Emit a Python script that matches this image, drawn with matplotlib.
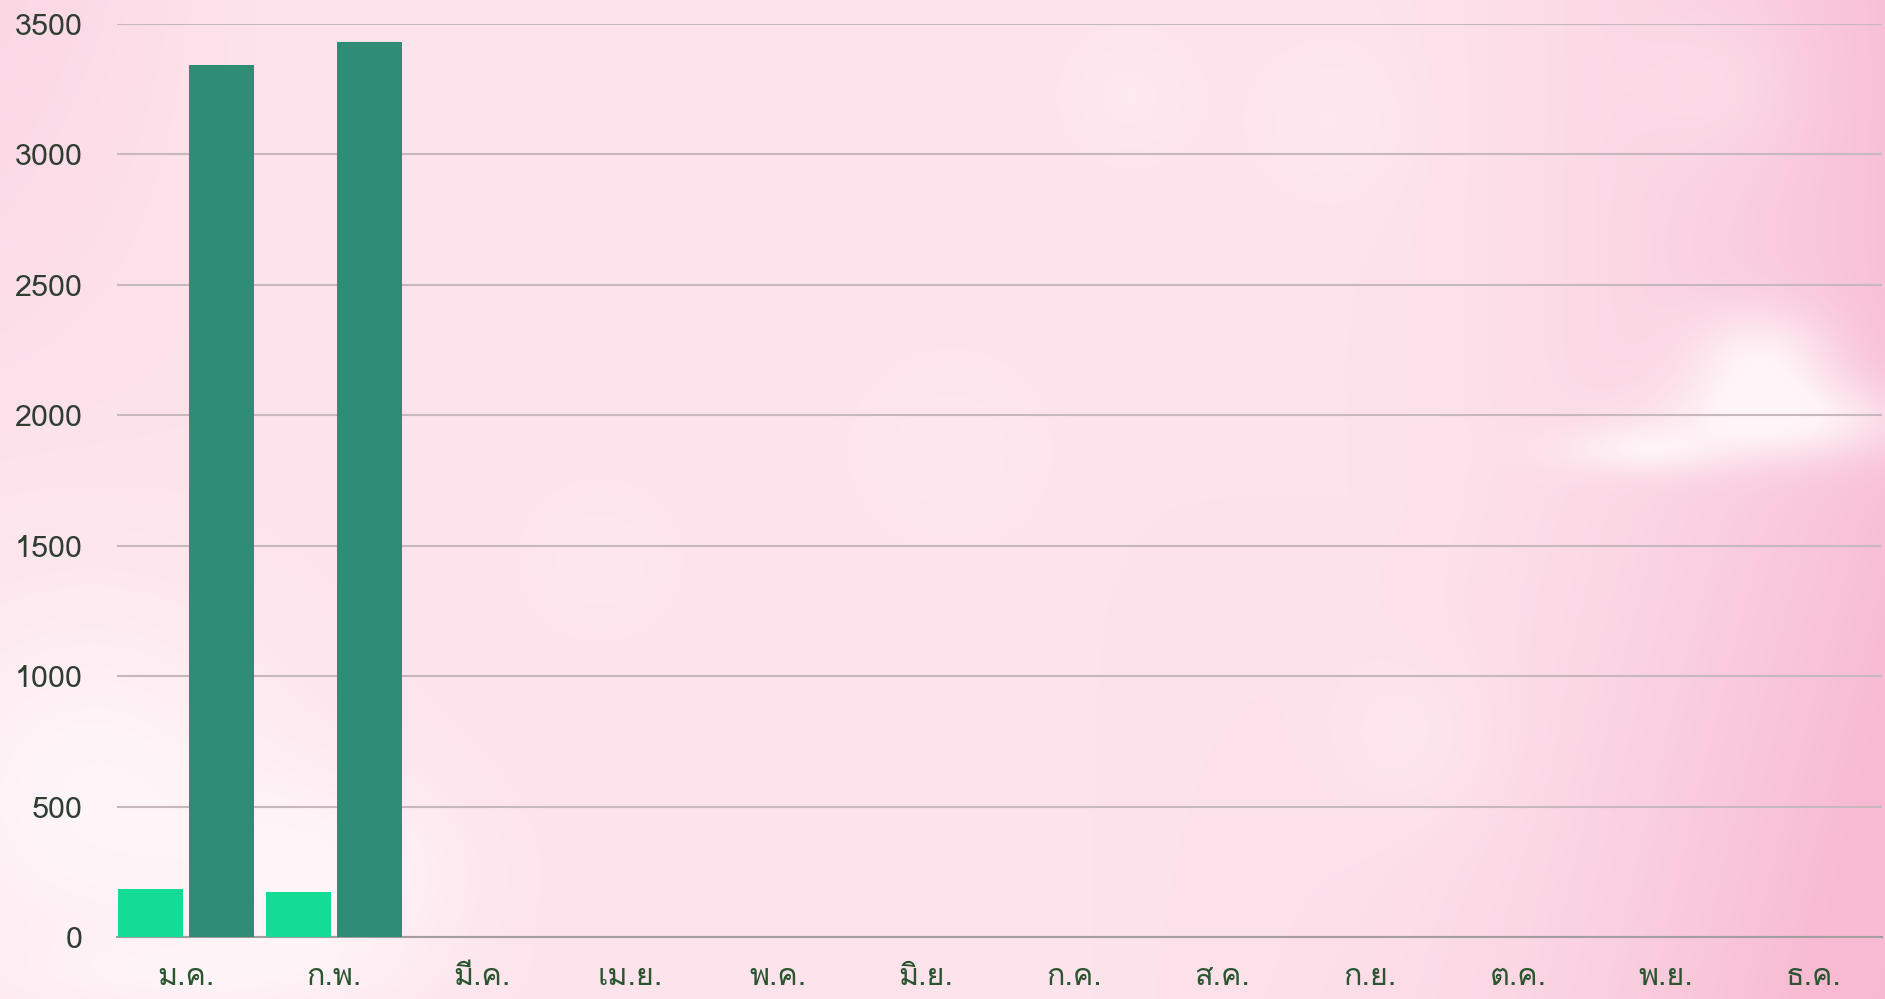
import numpy as np
import matplotlib
matplotlib.use("Agg")
import matplotlib.pyplot as plt

months = ["ม.ค.", "ก.พ.", "มี.ค.", "เม.ย.", "พ.ค.", "มิ.ย.",
          "ก.ค.", "ส.ค.", "ก.ย.", "ต.ค.", "พ.ย.", "ธ.ค."]
series_a = [184, 172, 0, 0, 0, 0, 0, 0, 0, 0, 0, 0]
series_b = [3343, 3431, 0, 0, 0, 0, 0, 0, 0, 0, 0, 0]
yticks = [0, 500, 1000, 1500, 2000, 2500, 3000, 3500]

plt.rcParams['font.family'] = ['Loma', 'DejaVu Sans']

W, H = 1885, 999
fig = plt.figure(figsize=(W / 100, H / 100), dpi=100)

# background: light pink wash, pinker at the right edge, soft white blobs
bg = fig.add_axes([0, 0, 1, 1], zorder=-10)
h, w = 250, 472
py, px = np.mgrid[0:H:h*1j, 0:W:w*1j]
c_light = np.array([253, 227, 236]) / 255
c_pink = np.array([247, 186, 210]) / 255
t = np.clip((px - 1350) / 535, 0, 1) ** 1.6 * 0.85
t += np.clip((px - 1100) / 785, 0, 1) * np.clip((py - 500) / 500, 0, 1) * 0.35
t += np.clip(1 - px / 250, 0, 1) * np.clip(1 - py / 500, 0, 1) * 0.3
t = np.clip(t, 0, 1)
img = c_light * (1 - t[..., None]) + c_pink * t[..., None]


def blob(cx, cy, rx, ry, a):
    d = ((px - cx) / rx) ** 2 + ((py - cy) / ry) ** 2
    return a * np.exp(-d * 2.2)


white = np.zeros_like(px)
white += blob(90, 800, 300, 300, 0.9)
white += blob(330, 880, 200, 160, 0.75)
white += blob(200, 980, 300, 60, 0.4)
white += blob(1780, 420, 190, 60, 0.9)
white += blob(1760, 360, 110, 75, 0.85)
white += blob(1640, 450, 120, 35, 0.7)
white += blob(1130, 95, 90, 90, 0.3)
white += blob(1330, 120, 110, 110, 0.25)
white += blob(1720, 85, 120, 110, 0.25)
white += blob(1420, 740, 130, 130, 0.25)
white += blob(600, 560, 120, 120, 0.2)
white += blob(950, 450, 150, 150, 0.2)
white = np.clip(white, 0, 0.95)
img = img * (1 - white[..., None]) + white[..., None] * np.array([1.0, 0.97, 0.98])
bg.imshow(img, aspect='auto', extent=[0, 1, 0, 1], origin='upper', interpolation='bicubic')
bg.set_axis_off()

ax = fig.add_axes([117 / W, 62 / H, 1765 / W, 913 / H])
ax.patch.set_alpha(0)

x = np.arange(len(months))
bw = 0.44
ax.bar(x - 0.24, series_a, bw, color='#13dc94', zorder=3)
ax.bar(x + 0.24, series_b, bw, color='#2e8d74', zorder=3)

ax.set_xlim(-0.466, 11.459)
ax.set_ylim(0, 3500)
ax.set_yticks(yticks)
ax.set_xticks(x, months)
ax.yaxis.grid(True, color='#c7b8bd', linewidth=1.5, zorder=0)
ax.set_axisbelow(True)
for s in ['top', 'right', 'left']:
    ax.spines[s].set_visible(False)
ax.spines['bottom'].set_color('#a59ea0')
ax.spines['bottom'].set_linewidth(1.5)
ax.tick_params(axis='y', length=0, labelsize=22, colors='#2f3d33', pad=25)
ax.tick_params(axis='x', length=0, labelsize=22, colors='#2a5530', pad=19)

fig.savefig("out.png", dpi=100)
